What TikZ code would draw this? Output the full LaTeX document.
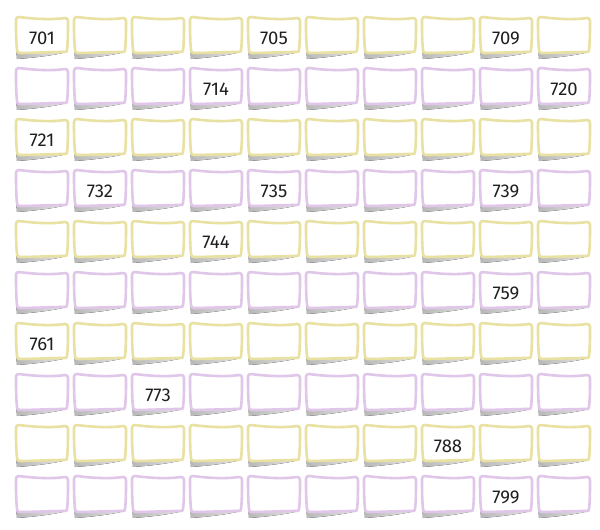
\documentclass[tikz,border=0pt]{standalone}
\usepackage{fontspec}
\setmainfont{Fira Sans}
\definecolor{lemon}{HTML}{E8E1A2}
\definecolor{lilac}{HTML}{E0C6E8}
\begin{document}
\begin{tikzpicture}[x=1pt,y=-1pt,
 sheet/.style={fill=white,line width=2.6pt,line join=round},
 curl/.style={left color=black!28,right color=black!10,draw=none},
 num/.style={font=\fontsize{18.5}{18.5}\selectfont,text=black!88,inner sep=0pt}]
\useasboundingbox (0,0) rectangle (600,530);
% card grid
\foreach \r in {1,...,10}{
 \foreach \c in {1,...,10}{
  \ifodd\r \def\edge{lemon}\else\def\edge{lilac}\fi
  \begin{scope}[shift={(16+58*\c-58,17+51*\r-51)}]
  \fill[curl] (0,28) -- (1,42) .. controls (15,41) and (35,39) .. (51,35) -- (1,34) -- cycle;
  \path[sheet,draw=\edge] (0,3) .. controls (0,1) and (1,0) .. (3,0)
   .. controls (18,2) and (36,3) .. (49,1)
   .. controls (51,1) and (52,2) .. (52,4)
   .. controls (52,14) and (52,26) .. (51,33)
   .. controls (51,35) and (50,35) .. (48,35)
   .. controls (34,35) and (16,36) .. (4,36)
   .. controls (2,36) and (1,35) .. (1,33)
   .. controls (0,24) and (0,12) .. (0,3) -- cycle;
  \coordinate (card-\r-\c) at (26,21.5);
  \end{scope}
 }}
% numbered cards
\foreach \n in {701,705,709,714,720,721,732,735,739,744,759,761,773,788,799}{
 \pgfmathtruncatemacro\k{\n-701}
 \pgfmathtruncatemacro\r{div(\k,10)+1}
 \pgfmathtruncatemacro\c{mod(\k,10)+1}
 \node[num] (lbl-\n) at (card-\r-\c) {\n};
}
\end{tikzpicture}
\end{document}
